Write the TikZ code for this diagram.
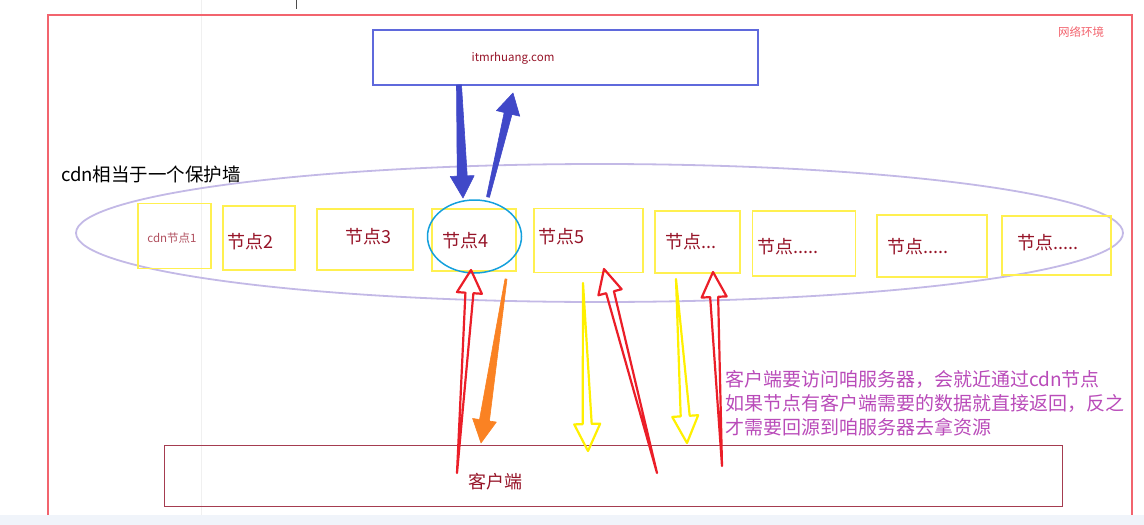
\documentclass[tikz,border=0pt]{standalone}
\usepackage{fontspec}
\setmainfont{Noto Sans CJK SC}
\usepackage{xcolor}
\usepackage{tikz}
\usetikzlibrary{calc,positioning,shapes.geometric}

\definecolor{netred}{RGB}{242,100,110}
\definecolor{siteblue}{RGB}{95,105,220}
\definecolor{arrowblue}{RGB}{64,72,200}
\definecolor{nodered}{RGB}{150,20,40}
\definecolor{boxyellow}{RGB}{255,240,80}
\definecolor{hitcyan}{RGB}{20,160,220}
\definecolor{wallpurple}{RGB}{195,185,230}
\definecolor{arrowred}{RGB}{235,30,40}
\definecolor{arroworange}{RGB}{250,130,35}
\definecolor{arrowyellow}{RGB}{255,240,0}
\definecolor{notepurple}{RGB}{185,75,185}
\definecolor{clientred}{RGB}{165,60,80}
\definecolor{bandblue}{RGB}{240,244,250}

% style, tail, tip, head length, head half width, shaft half width at head, at tail
\newcommand{\arrowshape}[7]{%
  \path ($(#3)!#4!(#2)$) coordinate (hb);
  \draw[#1] ($(#2)!#7!90:(#3)$) -- ($(hb)!#6!90:(#3)$) -- ($(hb)!#5!90:(#3)$) -- (#3)
    -- ($(hb)!#5!-90:(#3)$) -- ($(hb)!#6!-90:(#3)$) -- ($(#2)!#7!-90:(#3)$) -- cycle;
}

\begin{document}
\begin{tikzpicture}[x=1pt,y=-1pt,
  nodebox/.style={draw=boxyellow,line width=1.5pt,inner sep=0pt,outer sep=0pt},
  nodetext/.style={text=nodered,font=\fontsize{18}{20}\selectfont,inner sep=0pt,anchor=west},
  hollowred/.style={draw=arrowred,line width=2.2pt,line join=round},
  hollowyellow/.style={draw=arrowyellow,line width=2.2pt,line join=round},
  solidblue/.style={fill=arrowblue,draw=arrowblue,line width=0.6pt,line join=round},
  solidorange/.style={fill=arroworange,draw=arroworange,line width=0.6pt,line join=round}]
\useasboundingbox (0,0) rectangle (1144,525);
\draw[black!6,line width=1pt] (201,0) -- (201,515);
\draw[black!70,line width=1pt] (296,0) -- (296,9);
\node[draw=netred,line width=2pt,outer sep=0pt,minimum width=1084,minimum height=515,anchor=north west] (net) at (48,15) {};
\node[text=netred,font=\fontsize{11.5}{13}\selectfont] (netlabel) at (1081,32) {网络环境};
\fill[bandblue] (0,515) rectangle (1144,525);

\node[draw=siteblue,line width=1.5pt,outer sep=0pt,minimum width=385,minimum height=55] (site) at (565.5,57.5) {};
\node[text=nodered,font=\fontsize{11.5}{13}\selectfont] (sitename) at (513,58) {itmrhuang.com};

\node[font=\fontsize{18.5}{20}\selectfont,anchor=west,inner sep=0pt] (wall) at (61,174) {cdn相当于一个保护墙};
\node[ellipse,draw=wallpurple,line width=1.8pt,minimum width=1047,minimum height=138] (cdn) at (599.5,233) {};

\node[nodebox,minimum width=73,minimum height=65] (n1) at (174.5,236) {};
\node[nodebox,minimum width=72,minimum height=64] (n2) at (259,238) {};
\node[nodebox,minimum width=96,minimum height=61] (n3) at (365,239.5) {};
\node[nodebox,minimum width=84,minimum height=62] (n4) at (474,240) {};
\node[nodebox,minimum width=109,minimum height=64] (n5) at (588.5,240.5) {};
\node[nodebox,minimum width=85,minimum height=62] (n6) at (697.5,242) {};
\node[nodebox,minimum width=103,minimum height=65] (n7) at (804,243.5) {};
\node[nodebox,minimum width=110,minimum height=62] (n8) at (932,246) {};
\node[nodebox,minimum width=109,minimum height=59] (n9) at (1056.5,245.5) {};

\node[text=nodered!75,font=\fontsize{11.5}{13}\selectfont] (l1) at (172,238) {cdn节点1};
\node[nodetext] (l2) at (227,242) {节点2};
\node[nodetext] (l3) at (345,237) {节点3};
\node[nodetext] (l4) at (442,241) {节点4};
\node[nodetext] (l5) at (538,237) {节点5};
\node[nodetext] (l6) at (665,242) {节点...};
\node[nodetext] (l7) at (757,247) {节点.....};
\node[nodetext] (l8) at (887,247) {节点.....};
\node[nodetext] (l9) at (1017,243) {节点.....};
\node[ellipse,draw=hitcyan,line width=1.5pt,minimum width=94,minimum height=73] (hit) at (474.5,236.5) {};

\node[draw=clientred,line width=1.5pt,outer sep=0pt,minimum width=898,minimum height=61] (client) at (613.5,476) {};
\node[nodetext] (clientname) at (468,482) {客户端};
\node[text=notepurple,font=\fontsize{19}{24}\selectfont,align=left,anchor=west,inner sep=0pt] (note) at (725,403)
  {客户端要访问咱服务器，会就近通过cdn节点\\如果节点有客户端需要的数据就直接返回，反之\\才需要回源到咱服务器去拿资源};

% arrow ends
\coordinate (bd0) at (459,85);  \coordinate (bd1) at (463,198);
\coordinate (bu0) at (488,197); \coordinate (bu1) at (513,93);
\coordinate (r1a) at (457,473); \coordinate (r1b) at (471,270);
\coordinate (o1a) at (506,279); \coordinate (o1b) at (481,443);
\coordinate (y1a) at (583,283); \coordinate (y1b) at (588,451);
\coordinate (r2a) at (657,473); \coordinate (r2b) at (604,269);
\coordinate (y2a) at (676,279); \coordinate (y2b) at (687,443);
\coordinate (r3a) at (722,466); \coordinate (r3b) at (713,272);

\arrowshape{solidblue}{bd0}{bd1}{22pt}{12pt}{5pt}{2.5pt}
\arrowshape{solidblue}{bu0}{bu1}{21pt}{12pt}{4pt}{1.5pt}
\arrowshape{solidorange}{o1a}{o1b}{23pt}{12pt}{5pt}{1pt}
\arrowshape{hollowred}{r1a}{r1b}{23pt}{12.5pt}{4pt}{0pt}
\arrowshape{hollowred}{r2a}{r2b}{24pt}{12pt}{4pt}{0pt}
\arrowshape{hollowred}{r3a}{r3b}{25pt}{12.5pt}{4pt}{0pt}
\arrowshape{hollowyellow}{y1a}{y1b}{27pt}{13pt}{4.5pt}{0pt}
\arrowshape{hollowyellow}{y2a}{y2b}{27pt}{13pt}{4.5pt}{0pt}
\end{tikzpicture}
\end{document}
